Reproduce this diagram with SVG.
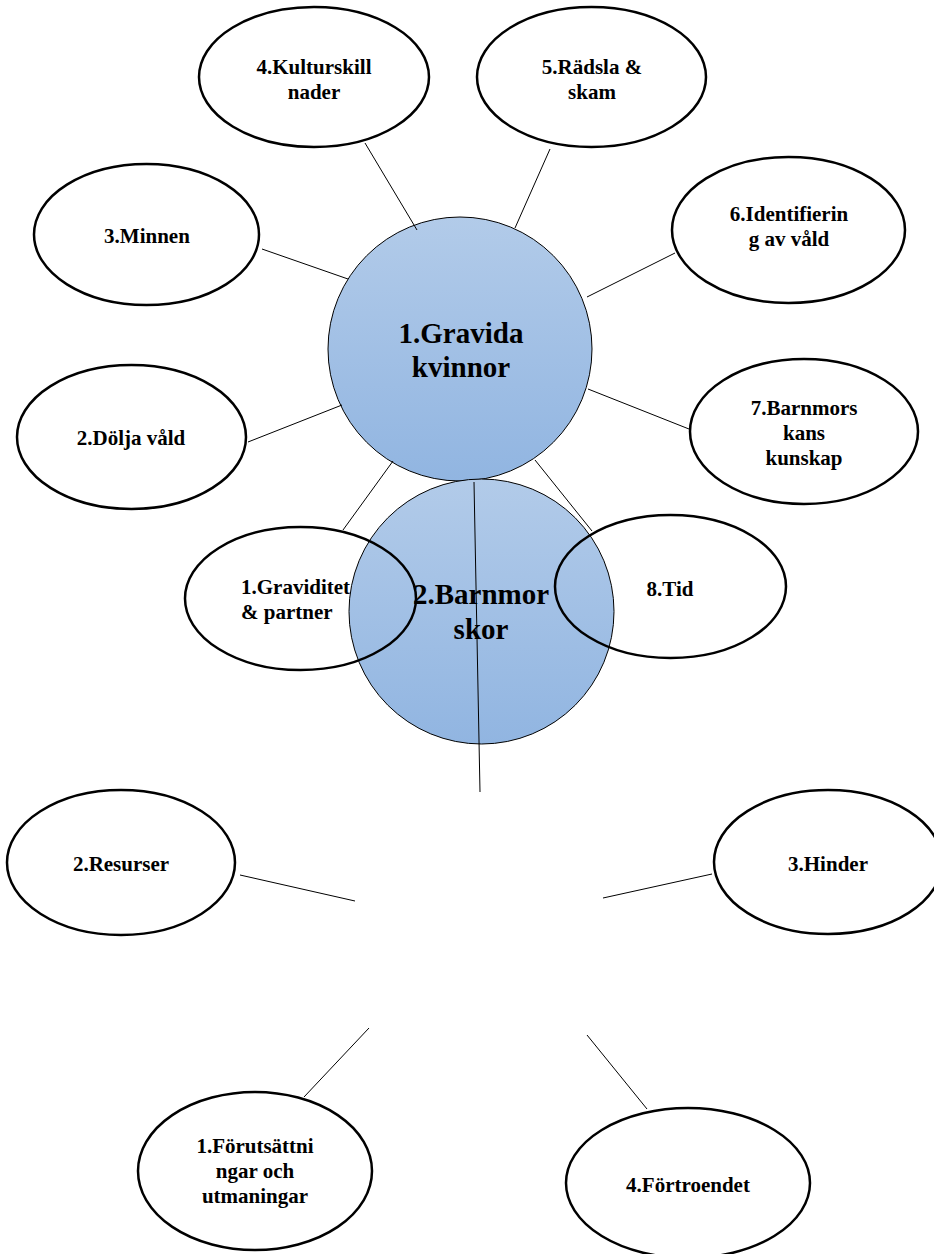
<svg xmlns="http://www.w3.org/2000/svg" width="934" height="1254" viewBox="0 0 934 1254">
<defs>
<linearGradient id="blue" x1="0" y1="0" x2="0" y2="1">
<stop offset="0" stop-color="#b2cbe9"/>
<stop offset="1" stop-color="#91b5e1"/>
</linearGradient>
<style>
.ell{fill:none;stroke:#000;stroke-width:2.5}
.circ{fill:url(#blue);stroke:#000;stroke-width:1}
.lbl{font-family:"Liberation Serif","Times New Roman",serif;font-weight:bold;font-size:21px;fill:#000;text-anchor:middle}
.big{font-family:"Liberation Serif","Times New Roman",serif;font-weight:bold;font-size:29px;fill:#000;text-anchor:middle}
.con{stroke:#000;stroke-width:1;fill:none}
</style>
</defs>
<rect width="934" height="1254" fill="#fff"/>
<g id="gravida-kvinnor">
<circle class="circ" cx="460" cy="349" r="132"/>
<text class="big" x="461" y="343">1.Gravida</text>
<text class="big" x="461" y="377">kvinnor</text>
</g>
<g id="barnmorskor">
<circle class="circ" cx="481.5" cy="611.5" r="132.5"/>
<text class="big" x="481" y="604">2.Barnmor</text>
<text class="big" x="481" y="639">skor</text>
</g>
<g id="kulturskillnader">
<ellipse class="ell" cx="314" cy="77" rx="115" ry="70"/>
<text class="lbl" x="314" y="74">4.Kulturskill</text>
<text class="lbl" x="314" y="99">nader</text>
</g>
<g id="radsla">
<ellipse class="ell" cx="591.5" cy="77" rx="114.5" ry="70"/>
<text class="lbl" x="592" y="74">5.Rädsla &amp;</text>
<text class="lbl" x="592" y="99">skam</text>
</g>
<g id="minnen">
<ellipse class="ell" cx="146.5" cy="234.5" rx="112.5" ry="70.5"/>
<text class="lbl" x="147" y="243">3.Minnen</text>
</g>
<g id="identifiering">
<ellipse class="ell" cx="788.5" cy="230" rx="116.5" ry="73"/>
<text class="lbl" x="789" y="221">6.Identifierin</text>
<text class="lbl" x="789" y="246">g av våld</text>
</g>
<g id="dolja-vald">
<ellipse class="ell" cx="131.5" cy="437" rx="114.5" ry="72"/>
<text class="lbl" x="131" y="445">2.Dölja våld</text>
</g>
<g id="barnmorskans-kunskap">
<ellipse class="ell" cx="804" cy="431.5" rx="114" ry="72.5"/>
<text class="lbl" x="804" y="415">7.Barnmors</text>
<text class="lbl" x="804" y="440">kans</text>
<text class="lbl" x="804" y="465">kunskap</text>
</g>
<g id="graviditet-partner">
<ellipse class="ell" cx="300.5" cy="598.5" rx="115.5" ry="71.5"/>
<text class="lbl" x="241" y="594" text-anchor="start" style="text-anchor:start">1.Graviditet</text>
<text class="lbl" x="241" y="619" style="text-anchor:start">&amp; partner</text>
</g>
<g id="tid">
<ellipse class="ell" cx="670.5" cy="586.5" rx="115.5" ry="71.5"/>
<text class="lbl" x="670" y="596">8.Tid</text>
</g>
<g id="resurser">
<ellipse class="ell" cx="121" cy="862.5" rx="114" ry="72.5"/>
<text class="lbl" x="121" y="871">2.Resurser</text>
</g>
<g id="hinder">
<ellipse class="ell" cx="828" cy="862" rx="114" ry="72"/>
<text class="lbl" x="828" y="871">3.Hinder</text>
</g>
<g id="forutsattningar">
<ellipse class="ell" cx="255" cy="1171" rx="117" ry="79"/>
<text class="lbl" x="255" y="1153">1.Förutsättni</text>
<text class="lbl" x="255" y="1178">ngar och</text>
<text class="lbl" x="255" y="1203">utmaningar</text>
</g>
<g id="fortroendet">
<ellipse class="ell" cx="688" cy="1183" rx="122" ry="75"/>
<text class="lbl" x="688" y="1192">4.Förtroendet</text>
</g>
<g id="connectors">
<line class="con" x1="365" y1="143" x2="417" y2="230"/>
<line class="con" x1="550" y1="149" x2="515" y2="228"/>
<line class="con" x1="262" y1="249" x2="348" y2="279"/>
<line class="con" x1="675" y1="253" x2="587" y2="297"/>
<line class="con" x1="248" y1="442" x2="342" y2="405"/>
<line class="con" x1="588" y1="389" x2="689" y2="429"/>
<line class="con" x1="393" y1="461" x2="343" y2="530"/>
<line class="con" x1="535" y1="460" x2="592" y2="531"/>
<line class="con" x1="474" y1="482" x2="480" y2="792"/>
<line class="con" x1="240" y1="875" x2="355" y2="901"/>
<line class="con" x1="603" y1="898" x2="712" y2="874"/>
<line class="con" x1="369" y1="1028" x2="304" y2="1097"/>
<line class="con" x1="587" y1="1035" x2="647" y2="1109"/>
</g>
</svg>
